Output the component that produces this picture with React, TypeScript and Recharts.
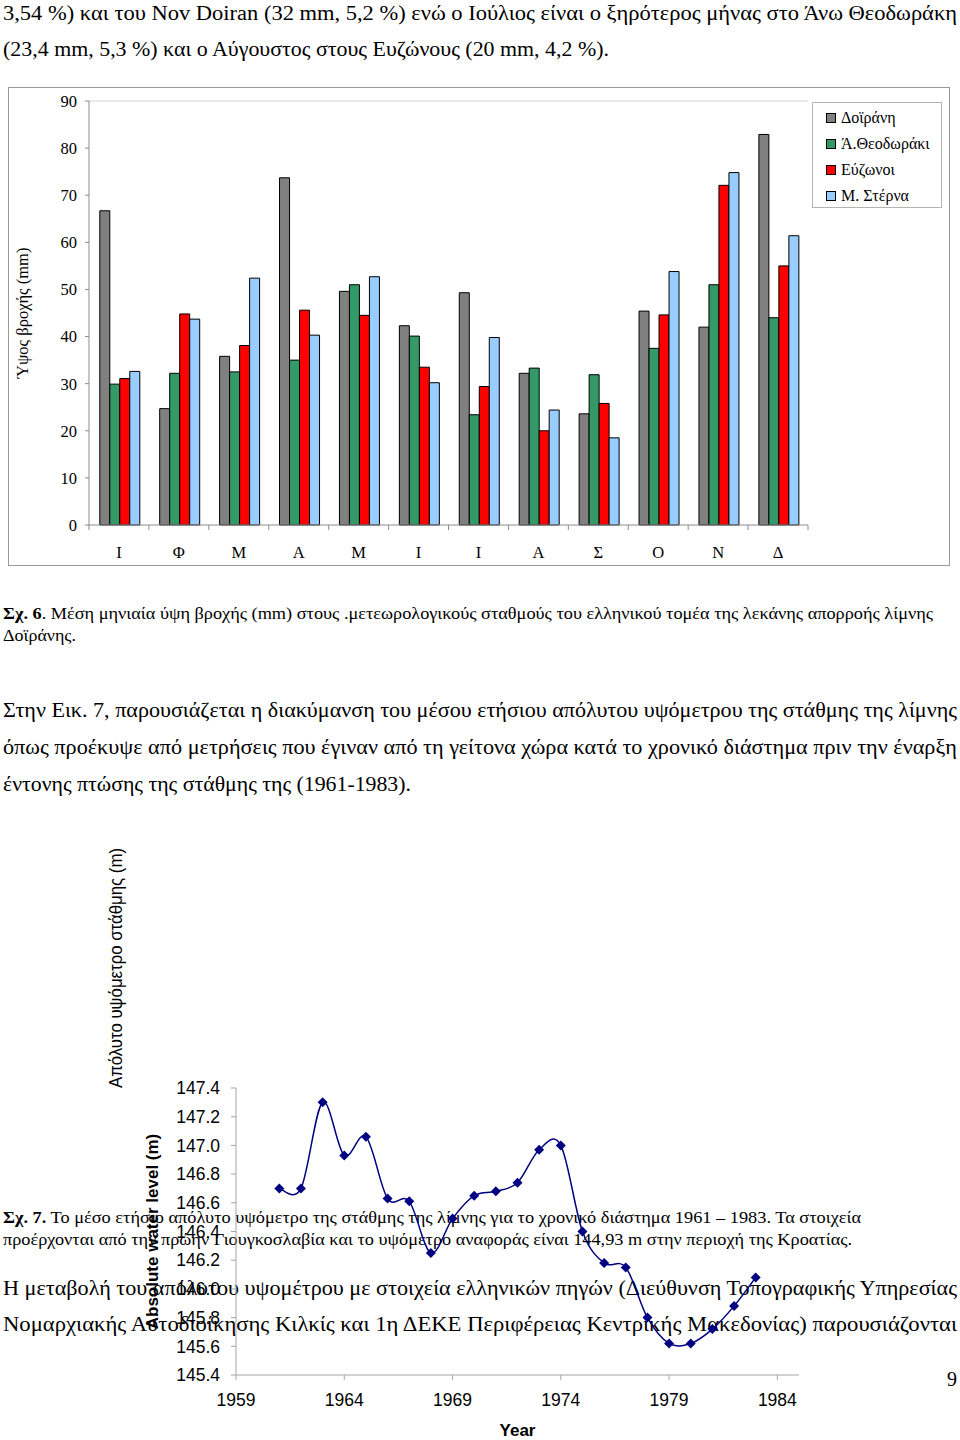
import React from "react";
import {
  BarChart,
  Bar,
  XAxis,
  YAxis,
  Legend,
  ReferenceLine,
  LineChart,
  Line,
} from "recharts";

const SERIF = '"Liberation Serif", "Times New Roman", serif';
const SANS = '"Liberation Sans", Arial, sans-serif';
const AXIS = "#8c8c8c";

// Σχ. 6 — μέση μηνιαία βροχή (mm)
const MONTHS = ["Ι", "Φ", "Μ", "Α", "Μ", "Ι", "Ι", "Α", "Σ", "Ο", "Ν", "Δ"];
const STATIONS = ["Δοϊράνη", "Ά.Θεοδωράκι", "Εύζωνοι", "Μ. Στέρνα"];
const DOIRANI = [66.7, 24.7, 35.8, 73.7, 49.6, 42.3, 49.3, 32.2, 23.6, 45.4, 42.0, 82.9];
const THEODORAKI = [29.9, 32.2, 32.5, 35.0, 51.0, 40.1, 23.4, 33.3, 31.9, 37.5, 51.0, 44.0];
const EVZONOI = [31.1, 44.8, 38.1, 45.6, 44.5, 33.5, 29.4, 20.0, 25.8, 44.6, 72.1, 55.0];
const STERNA = [32.6, 43.7, 52.4, 40.3, 52.7, 30.2, 39.8, 24.4, 18.5, 53.8, 74.8, 61.4];
const RAIN_TICKS = [0, 10, 20, 30, 40, 50, 60, 70, 80, 90];

// Σχ. 7 — απόλυτο υψόμετρο στάθμης (m)
const YEARS = [
  1961, 1962, 1963, 1964, 1965, 1966, 1967, 1968, 1969, 1970, 1971, 1972,
  1973, 1974, 1975, 1976, 1977, 1978, 1979, 1980, 1981, 1982, 1983,
];
const LEVELS = [
  146.7, 146.7, 147.3, 146.93, 147.06, 146.63, 146.61, 146.25, 146.49, 146.65,
  146.68, 146.74, 146.97, 147.0, 146.4, 146.18, 146.15, 145.8, 145.62, 145.62,
  145.72, 145.88, 146.08,
];
const YEAR_TICKS = [1959, 1964, 1969, 1974, 1979, 1984];
const LEVEL_TICKS = [145.4, 145.6, 145.8, 146.0, 146.2, 146.4, 146.6, 146.8, 147.0, 147.2, 147.4];

const rainData = MONTHS.map((m, i) => ({
  month: m,
  doirani: DOIRANI[i],
  theodoraki: THEODORAKI[i],
  evzonoi: EVZONOI[i],
  sterna: STERNA[i],
}));

const levelData = YEARS.map((year, i) => ({ year, level: LEVELS[i] }));

// Excel-like smoothed line (Catmull-Rom through the points)
function smoothCurve(context: any) {
  let pts: number[][] = [];
  return {
    areaStart() {},
    areaEnd() {},
    lineStart() {
      pts = [];
    },
    point(x: number, y: number) {
      pts.push([+x, +y]);
    },
    lineEnd() {
      const n = pts.length;
      if (!n) return;
      context.moveTo(pts[0][0], pts[0][1]);
      for (let i = 0; i < n - 1; i++) {
        const p0 = pts[Math.max(i - 1, 0)];
        const p1 = pts[i];
        const p2 = pts[i + 1];
        const p3 = pts[Math.min(i + 2, n - 1)];
        context.bezierCurveTo(
          p1[0] + (p2[0] - p0[0]) / 6,
          p1[1] + (p2[1] - p0[1]) / 6,
          p2[0] - (p3[0] - p1[0]) / 6,
          p2[1] - (p3[1] - p1[1]) / 6,
          p2[0],
          p2[1]
        );
      }
    },
  };
}

function MonthTick(props: any) {
  const { x, y, payload, index, visibleTicksCount } = props;
  const half = payload?.offset || 30;
  return (
    <g>
      <line x1={x - half} x2={x - half} y1={y} y2={y + 5} stroke={AXIS} />
      {index === visibleTicksCount - 1 && (
        <line x1={x + half} x2={x + half} y1={y} y2={y + 5} stroke={AXIS} />
      )}
      <text
        x={x}
        y={y + 27}
        textAnchor="middle"
        dominantBaseline="central"
        fontFamily={SERIF}
        fontSize={16.5}
        fill="#000"
      >
        {payload.value}
      </text>
    </g>
  );
}

function StationLegend({ payload }: any) {
  const items = STATIONS.map((name) => (payload || []).find((p: any) => p.value === name)).filter(Boolean);
  return (
    <div
      style={{
        border: "1px solid #b4b4b4",
        background: "#fff",
        padding: "2px 0 0 13px",
        width: 130,
        height: 106,
        boxSizing: "border-box",
        fontFamily: SERIF,
        fontSize: 16,
        color: "#000",
      }}
    >
      {items.map((p: any) => (
        <div key={p.value} style={{ height: 26, display: "flex", alignItems: "center" }}>
          <span
            style={{
              width: 8,
              height: 8,
              background: p.color,
              border: "1px solid #000",
              marginRight: 5,
              display: "inline-block",
            }}
          />
          {p.value}
        </div>
      ))}
    </div>
  );
}

function Diamond(props: any) {
  const { cx, cy, index } = props;
  if (cx == null || cy == null) return null;
  return (
    <path
      key={`dot-${index}`}
      d={`M${cx},${cy - 5}L${cx + 5},${cy}L${cx},${cy + 5}L${cx - 5},${cy}Z`}
      fill="#000080"
    />
  );
}

function Line1({ y, w, size, children }: any) {
  return (
    <text x={3} y={y} fontSize={size} textLength={w} lengthAdjust="spacingAndGlyphs">
      {children}
    </text>
  );
}

function PageText() {
  return (
    <svg
      width={960}
      height={1440}
      style={{ position: "absolute", left: 0, top: 0 }}
      fontFamily={SERIF}
      fill="#000"
    >
      <Line1 y={20} w={954} size={20}>
        3,54 %) και του Nov Doiran (32 mm, 5,2 %) ενώ ο Ιούλιος είναι ο ξηρότερος μήνας στο Άνω Θεοδωράκη
      </Line1>
      <Line1 y={56} w={606} size={20}>
        (23,4 mm, 5,3 %) και ο Αύγουστος στους Ευζώνους (20 mm, 4,2 %).
      </Line1>
      <Line1 y={619} w={930} size={17}>
        <tspan fontWeight="bold">Σχ. 6</tspan>. Μέση μηνιαία ύψη βροχής (mm) στους .μετεωρολογικούς σταθμούς του ελληνικού τομέα της λεκάνης απορροής λίμνης
      </Line1>
      <Line1 y={641} w={73} size={17}>
        Δοϊράνης.
      </Line1>
      <Line1 y={717} w={954} size={20}>
        Στην Εικ. 7, παρουσιάζεται η διακύμανση του μέσου ετήσιου απόλυτου υψόμετρου της στάθμης της λίμνης
      </Line1>
      <Line1 y={754} w={954} size={20}>
        όπως προέκυψε από μετρήσεις που έγιναν από τη γείτονα χώρα κατά το χρονικό διάστημα πριν την έναρξη
      </Line1>
      <Line1 y={791} w={408} size={20}>
        έντονης πτώσης της στάθμης της (1961-1983).
      </Line1>
      <Line1 y={1223} w={858} size={16}>
        <tspan fontWeight="bold">Σχ. 7.</tspan> Το μέσο ετήσιο απόλυτο υψόμετρο της στάθμης της λίμνης για το χρονικό διάστημα 1961 – 1983. Τα στοιχεία
      </Line1>
      <Line1 y={1245} w={849} size={16}>
        προέρχονται από την πρώην Γιουγκοσλαβία και το υψόμετρο αναφοράς είναι 144,93 m στην περιοχή της Κροατίας.
      </Line1>
      <Line1 y={1295} w={954} size={21}>
        Η μεταβολή του απόλυτου υψομέτρου με στοιχεία ελληνικών πηγών (Διεύθυνση Τοπογραφικής Υπηρεσίας
      </Line1>
      <Line1 y={1331} w={954} size={21}>
        Νομαρχιακής Αυτοδιοίκησης Κιλκίς και 1η ΔΕΚΕ Περιφέρειας Κεντρικής Μακεδονίας) παρουσιάζονται
      </Line1>
      <text x={957} y={1386} fontSize={20} textAnchor="end">
        9
      </text>
      <text
        transform="translate(116,968) rotate(-90)"
        textAnchor="middle"
        dominantBaseline="central"
        fontFamily={SANS}
        fontSize={18}
        textLength={240}
        lengthAdjust="spacingAndGlyphs"
      >
        Απόλυτο υψόμετρο στάθμης (m)
      </text>
    </svg>
  );
}

export default function App() {
  return (
    <div
      style={{
        position: "absolute",
        left: 0,
        top: 0,
        width: 960,
        height: 1440,
        background: "#fff",
        overflow: "hidden",
      }}
    >
      <PageText />

      <div
        style={{
          position: "absolute",
          left: 8,
          top: 87,
          width: 942,
          height: 479,
          border: "1.5px solid #9a9a9a",
          boxSizing: "border-box",
        }}
      />
      <div style={{ position: "absolute", left: 0, top: 87 }}>
        <BarChart
          width={960}
          height={479}
          data={rainData}
          margin={{ top: 14, right: 152, left: 0, bottom: 0 }}
          barCategoryGap="18%"
          barGap={0}
        >
          <XAxis
            dataKey="month"
            height={41}
            interval={0}
            tickSize={0}
            tickMargin={0}
            tickLine={false}
            axisLine={{ stroke: AXIS }}
            tick={<MonthTick />}
          />
          <YAxis
            width={89}
            domain={[0, 90]}
            ticks={RAIN_TICKS}
            interval={0}
            tickSize={4}
            tickMargin={8}
            axisLine={{ stroke: AXIS }}
            tickLine={{ stroke: AXIS }}
            tick={{ fontFamily: SERIF, fontSize: 16.5, fill: "#000" }}
            label={{
              value: "Ύψος βροχής (mm)",
              angle: -90,
              position: "insideLeft",
              offset: 22,
              style: { textAnchor: "middle", fontFamily: SERIF, fontSize: 16.5, fill: "#000" },
            }}
          />
          <ReferenceLine y={90} stroke="#d4d4d4" />
          <Legend
            layout="vertical"
            align="center"
            verticalAlign="middle"
            width={130}
            wrapperStyle={{ left: 812, top: 15, width: 130, height: 106 }}
            content={<StationLegend />}
          />
          <Bar dataKey="doirani" name={STATIONS[0]} fill="#808080" stroke="#000" strokeWidth={1} isAnimationActive={false} />
          <Bar dataKey="theodoraki" name={STATIONS[1]} fill="#339966" stroke="#000" strokeWidth={1} isAnimationActive={false} />
          <Bar dataKey="evzonoi" name={STATIONS[2]} fill="#ff0000" stroke="#000" strokeWidth={1} isAnimationActive={false} />
          <Bar dataKey="sterna" name={STATIONS[3]} fill="#99ccff" stroke="#000" strokeWidth={1} isAnimationActive={false} />
        </BarChart>
      </div>

      <div style={{ position: "absolute", left: 0, top: 1070 }}>
        <LineChart
          width={960}
          height={370}
          data={levelData}
          margin={{ top: 18, right: 161, left: 0, bottom: 0 }}
        >
          <XAxis
            dataKey="year"
            type="number"
            domain={[1959, 1985]}
            ticks={YEAR_TICKS}
            interval={0}
            height={65}
            tickSize={5}
            tickMargin={14}
            axisLine={{ stroke: "#a6a6a6" }}
            tickLine={{ stroke: "#a6a6a6" }}
            tick={{ fontFamily: SANS, fontSize: 17.5, fill: "#000" }}
            label={{
              value: "Year",
              position: "insideBottom",
              offset: 4,
              style: { fontFamily: SANS, fontSize: 17, fontWeight: "bold", fill: "#000" },
            }}
          />
          <YAxis
            type="number"
            width={236}
            domain={[145.4, 147.4]}
            ticks={LEVEL_TICKS}
            interval={0}
            tickSize={5}
            tickMargin={11}
            tickFormatter={(v: number) => v.toFixed(1)}
            axisLine={{ stroke: "#a6a6a6" }}
            tickLine={{ stroke: "#a6a6a6" }}
            tick={{ fontFamily: SANS, fontSize: 17.5, fill: "#000" }}
            label={{
              value: "Absolute water level (m)",
              angle: -90,
              position: "insideLeft",
              offset: 152,
              style: { textAnchor: "middle", fontFamily: SANS, fontSize: 17, fontWeight: "bold", fill: "#000" },
            }}
          />
          <Line
            dataKey="level"
            type={smoothCurve as any}
            stroke="#000080"
            strokeWidth={1.5}
            dot={Diamond}
            activeDot={false}
            isAnimationActive={false}
          />
        </LineChart>
      </div>
    </div>
  );
}
